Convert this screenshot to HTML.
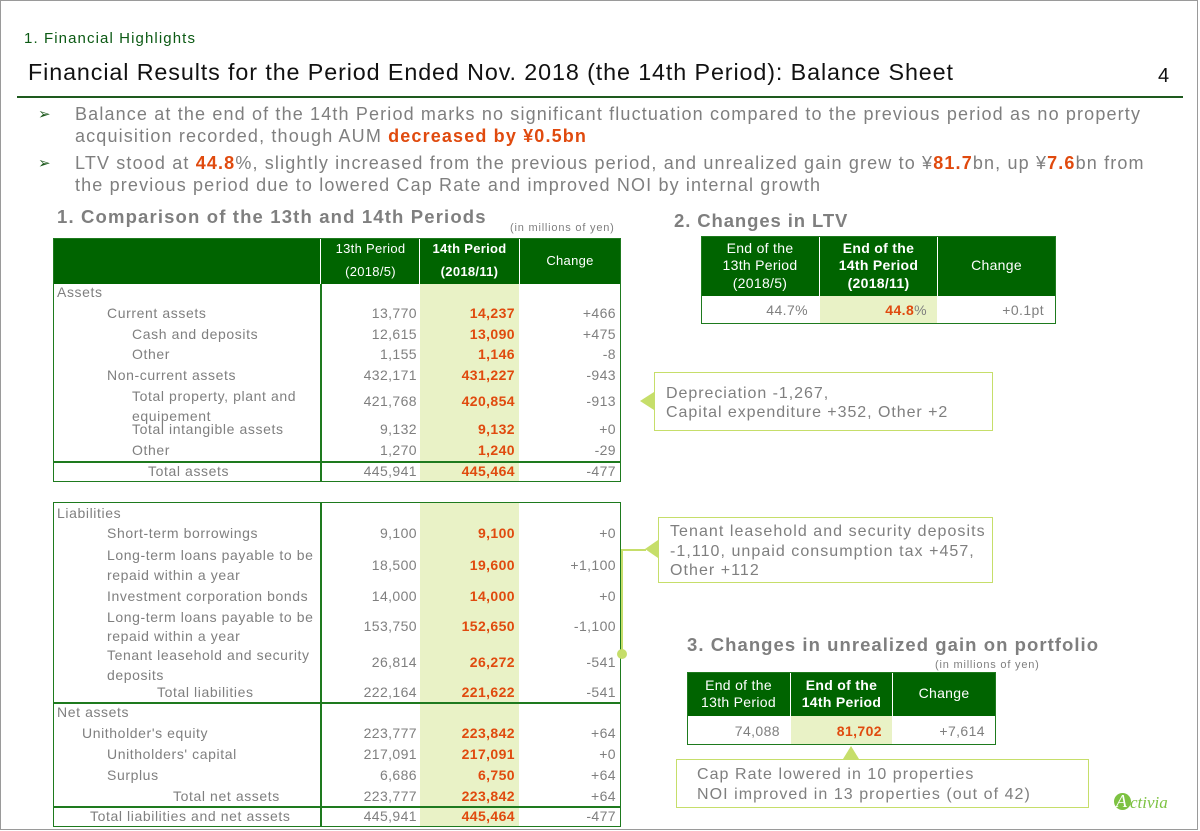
<!DOCTYPE html>
<html><head><meta charset="utf-8">
<style>
body{margin:0;width:1200px;height:831px;background:#fff;position:relative;overflow:hidden;font-family:"Liberation Sans","DejaVu Sans",sans-serif;color:#7f7f7f}
.a{position:absolute;white-space:nowrap;line-height:1}
.r{color:#e04a0e;font-weight:bold}
.box{position:absolute;box-sizing:border-box}
.n{position:absolute;white-space:nowrap;line-height:1;text-align:right;font-size:14px;letter-spacing:0.4px}
.l{position:absolute;white-space:nowrap;line-height:1;font-size:14px;letter-spacing:0.6px}
.hd{position:absolute;color:#fff;text-align:center;font-size:13px;line-height:1.25;display:flex;align-items:center;justify-content:center;box-sizing:border-box;letter-spacing:0.3px}
.bl{font-size:18px;letter-spacing:1.15px}
.h{font-size:18.5px;font-weight:bold;letter-spacing:1.15px}
.c{font-size:16px;letter-spacing:0.95px}
</style></head><body>
<div class="box" style="left:0;top:0;width:1198px;height:830px;border:1px solid #9a9a9a"></div>
<div class="a" style="left:24px;top:31px;font-size:15px;color:#0c5a14;letter-spacing:1.1px">1. Financial Highlights</div>
<div class="a" style="left:28px;top:61px;font-size:23.3px;color:#111;letter-spacing:0.9px">Financial Results for the Period Ended Nov. 2018 (the 14th Period): Balance Sheet</div>
<div class="a" style="left:1158px;top:66px;font-size:20px;color:#111">4</div>
<div class="box" style="left:17px;top:96px;width:1166px;height:2px;background:#1e5a1e"></div>

<div class="a" style="left:38px;top:107px;font-size:15px;color:#1e5a1e">&#10146;</div>
<div class="a bl" style="left:75px;top:105px">Balance at the end of the 14th Period marks no significant fluctuation compared to the previous period as no property</div>
<div class="a bl" style="left:75px;top:127px">acquisition recorded, though AUM <span class="r">decreased by ¥0.5bn</span></div>
<div class="a" style="left:38px;top:156px;font-size:15px;color:#1e5a1e">&#10146;</div>
<div class="a bl" style="left:75px;top:154px">LTV stood at <span class="r">44.8</span>%, slightly increased from the previous period, and unrealized gain grew to ¥<span class="r">81.7</span>bn, up ¥<span class="r">7.6</span>bn from</div>
<div class="a bl" style="left:75px;top:176px">the previous period due to lowered Cap Rate and improved NOI by internal growth</div>

<div class="a h" style="left:57px;top:208px">1. Comparison of the 13th and 14th Periods</div>
<div class="a" style="left:510px;top:223px;font-size:11px;letter-spacing:0.8px">(in millions of yen)</div>

<!-- table 1 -->
<div class="box" style="left:420px;top:284px;width:99px;height:197px;background:#e9f2c6"></div>
<div class="box" style="left:420px;top:503px;width:99px;height:323px;background:#e9f2c6"></div>
<div class="box" style="left:53px;top:238px;width:568px;height:46px;background:#006400"></div>
<div class="hd" style="left:321px;top:238px;width:99px;height:46px;line-height:1.75">13th Period<br>(2018/5)</div>
<div class="hd" style="left:420px;top:238px;width:99px;height:46px;line-height:1.75;font-weight:bold">14th Period<br>(2018/11)</div>
<div class="hd" style="left:520px;top:238px;width:100px;height:46px">Change</div>
<div class="box" style="left:320px;top:238px;width:1px;height:46px;background:#fff"></div>
<div class="box" style="left:419px;top:238px;width:1px;height:46px;background:#fff"></div>
<div class="box" style="left:519px;top:238px;width:1px;height:46px;background:#fff"></div>
<div class="box" style="left:53px;top:238px;width:568px;height:244px;border:1.5px solid #1e7a1e"></div>
<div class="box" style="left:320px;top:284px;width:1.5px;height:197px;background:#1e7a1e"></div>
<div class="box" style="left:53px;top:461px;width:568px;height:1.5px;background:#1e7a1e"></div>

<div class="l" style="left:57px;top:285px">Assets</div>
<div class="l" style="left:107px;top:306px">Current assets</div>
<div class="l" style="left:132px;top:327px">Cash and deposits</div>
<div class="l" style="left:132px;top:347px">Other</div>
<div class="l" style="left:107px;top:368px">Non-current assets</div>
<div class="l" style="left:132px;top:386px;line-height:20px;white-space:normal;width:186px">Total property, plant and equipement</div>
<div class="l" style="left:132px;top:422px">Total intangible assets</div>
<div class="l" style="left:132px;top:443px">Other</div>
<div class="l" style="left:148px;top:464px">Total assets</div>

<div class="n" style="left:300px;width:117px;top:306px">13,770</div><div class="n r" style="left:400px;width:115px;top:306px">14,237</div><div class="n" style="left:520px;width:96px;top:306px">+466</div>
<div class="n" style="left:300px;width:117px;top:327px">12,615</div><div class="n r" style="left:400px;width:115px;top:327px">13,090</div><div class="n" style="left:520px;width:96px;top:327px">+475</div>
<div class="n" style="left:300px;width:117px;top:347px">1,155</div><div class="n r" style="left:400px;width:115px;top:347px">1,146</div><div class="n" style="left:520px;width:96px;top:347px">-8</div>
<div class="n" style="left:300px;width:117px;top:368px">432,171</div><div class="n r" style="left:400px;width:115px;top:368px">431,227</div><div class="n" style="left:520px;width:96px;top:368px">-943</div>
<div class="n" style="left:300px;width:117px;top:394px">421,768</div><div class="n r" style="left:400px;width:115px;top:394px">420,854</div><div class="n" style="left:520px;width:96px;top:394px">-913</div>
<div class="n" style="left:300px;width:117px;top:422px">9,132</div><div class="n r" style="left:400px;width:115px;top:422px">9,132</div><div class="n" style="left:520px;width:96px;top:422px">+0</div>
<div class="n" style="left:300px;width:117px;top:443px">1,270</div><div class="n r" style="left:400px;width:115px;top:443px">1,240</div><div class="n" style="left:520px;width:96px;top:443px">-29</div>
<div class="n" style="left:300px;width:117px;top:464px">445,941</div><div class="n r" style="left:400px;width:115px;top:464px">445,464</div><div class="n" style="left:520px;width:96px;top:464px">-477</div>

<!-- table 2 -->
<div class="box" style="left:53px;top:502px;width:568px;height:325px;border:1.5px solid #1e7a1e"></div>
<div class="box" style="left:320px;top:502px;width:1.5px;height:324px;background:#1e7a1e"></div>
<div class="box" style="left:53px;top:702px;width:568px;height:1.5px;background:#1e7a1e"></div>
<div class="box" style="left:53px;top:806px;width:568px;height:1.5px;background:#1e7a1e"></div>

<div class="l" style="left:57px;top:506px">Liabilities</div>
<div class="l" style="left:107px;top:526px">Short-term borrowings</div>
<div class="l" style="left:107px;top:545px;line-height:20px;white-space:normal;width:212px">Long-term loans payable to be repaid within a year</div>
<div class="l" style="left:107px;top:589px">Investment corporation bonds</div>
<div class="l" style="left:107px;top:608px;line-height:19px;white-space:normal;width:212px">Long-term loans payable to be repaid within a year</div>
<div class="l" style="left:107px;top:645px;line-height:20px;white-space:normal;width:212px">Tenant leasehold and security deposits</div>
<div class="l" style="left:157px;top:685px">Total liabilities</div>
<div class="l" style="left:57px;top:705px">Net assets</div>
<div class="l" style="left:82px;top:726px">Unitholder's equity</div>
<div class="l" style="left:107px;top:747px">Unitholders' capital</div>
<div class="l" style="left:107px;top:768px">Surplus</div>
<div class="l" style="left:173px;top:789px">Total net assets</div>
<div class="l" style="left:90px;top:809px">Total liabilities and net assets</div>

<div class="n" style="left:300px;width:117px;top:526px">9,100</div><div class="n r" style="left:400px;width:115px;top:526px">9,100</div><div class="n" style="left:520px;width:96px;top:526px">+0</div>
<div class="n" style="left:300px;width:117px;top:558px">18,500</div><div class="n r" style="left:400px;width:115px;top:558px">19,600</div><div class="n" style="left:520px;width:96px;top:558px">+1,100</div>
<div class="n" style="left:300px;width:117px;top:589px">14,000</div><div class="n r" style="left:400px;width:115px;top:589px">14,000</div><div class="n" style="left:520px;width:96px;top:589px">+0</div>
<div class="n" style="left:300px;width:117px;top:619px">153,750</div><div class="n r" style="left:400px;width:115px;top:619px">152,650</div><div class="n" style="left:520px;width:96px;top:619px">-1,100</div>
<div class="n" style="left:300px;width:117px;top:655px">26,814</div><div class="n r" style="left:400px;width:115px;top:655px">26,272</div><div class="n" style="left:520px;width:96px;top:655px">-541</div>
<div class="n" style="left:300px;width:117px;top:685px">222,164</div><div class="n r" style="left:400px;width:115px;top:685px">221,622</div><div class="n" style="left:520px;width:96px;top:685px">-541</div>
<div class="n" style="left:300px;width:117px;top:726px">223,777</div><div class="n r" style="left:400px;width:115px;top:726px">223,842</div><div class="n" style="left:520px;width:96px;top:726px">+64</div>
<div class="n" style="left:300px;width:117px;top:747px">217,091</div><div class="n r" style="left:400px;width:115px;top:747px">217,091</div><div class="n" style="left:520px;width:96px;top:747px">+0</div>
<div class="n" style="left:300px;width:117px;top:768px">6,686</div><div class="n r" style="left:400px;width:115px;top:768px">6,750</div><div class="n" style="left:520px;width:96px;top:768px">+64</div>
<div class="n" style="left:300px;width:117px;top:789px">223,777</div><div class="n r" style="left:400px;width:115px;top:789px">223,842</div><div class="n" style="left:520px;width:96px;top:789px">+64</div>
<div class="n" style="left:300px;width:117px;top:809px">445,941</div><div class="n r" style="left:400px;width:115px;top:809px">445,464</div><div class="n" style="left:520px;width:96px;top:809px">-477</div>

<!-- LTV -->
<div class="a h" style="left:674px;top:212px;letter-spacing:0.9px">2. Changes in LTV</div>
<div class="box" style="left:701px;top:236px;width:354px;height:60px;background:#006400"></div>
<div class="hd" style="left:701px;top:236px;width:118px;height:60px;font-size:14px">End of the<br>13th Period<br>(2018/5)</div>
<div class="hd" style="left:820px;top:236px;width:117px;height:60px;font-size:14px;font-weight:bold">End of the<br>14th Period<br>(2018/11)</div>
<div class="hd" style="left:938px;top:236px;width:117px;height:60px;font-size:14px">Change</div>
<div class="box" style="left:819px;top:236px;width:1px;height:60px;background:#fff"></div>
<div class="box" style="left:937px;top:236px;width:1px;height:60px;background:#fff"></div>
<div class="box" style="left:820px;top:296px;width:117px;height:27px;background:#e9f2c6"></div>
<div class="box" style="left:701px;top:236px;width:355px;height:88px;border:1px solid #1e7a1e"></div>
<div class="n" style="left:701px;width:107px;top:303px">44.7%</div>
<div class="n" style="left:820px;width:107px;top:303px"><span class="r">44.8</span>%</div>
<div class="n" style="left:938px;width:106px;top:303px">+0.1pt</div>

<!-- callout 1 -->
<div class="box" style="left:654px;top:372px;width:339px;height:59px;border:1.5px solid #c6de6a"></div>
<div style="position:absolute;left:640px;top:392px;width:0;height:0;border-top:9px solid transparent;border-bottom:9px solid transparent;border-right:14px solid #c6de6a"></div>
<div class="a c" style="left:666px;top:384px;line-height:19px">Depreciation -1,267,<br>Capital expenditure +352, Other +2</div>

<!-- callout 2 -->
<div class="box" style="left:658px;top:517px;width:335px;height:66px;border:1.5px solid #c6de6a"></div>
<div style="position:absolute;left:645px;top:540px;width:0;height:0;border-top:9px solid transparent;border-bottom:9px solid transparent;border-right:13px solid #c6de6a"></div>
<div class="box" style="left:621px;top:549px;width:25px;height:1.5px;background:#c6de6a"></div>
<div class="box" style="left:621px;top:549px;width:1.5px;height:105px;background:#c6de6a"></div>
<div class="box" style="left:617px;top:649px;width:10px;height:10px;border-radius:50%;background:#c6de6a"></div>
<div class="a c" style="left:670px;top:522px;line-height:19.5px;letter-spacing:1.05px">Tenant leasehold and security deposits<br>-1,110, unpaid consumption tax +457,<br>Other +112</div>

<!-- unrealized -->
<div class="a h" style="left:687px;top:636px;letter-spacing:1.05px">3. Changes in unrealized gain on portfolio</div>
<div class="a" style="left:935px;top:660px;font-size:11px;letter-spacing:0.8px">(in millions of yen)</div>
<div class="box" style="left:687px;top:672px;width:308px;height:44px;background:#006400"></div>
<div class="hd" style="left:687px;top:672px;width:103px;height:44px;font-size:14px">End of the<br>13th Period</div>
<div class="hd" style="left:791px;top:672px;width:101px;height:44px;font-size:14px;font-weight:bold">End of the<br>14th Period</div>
<div class="hd" style="left:893px;top:672px;width:102px;height:44px;font-size:14px">Change</div>
<div class="box" style="left:790px;top:672px;width:1px;height:44px;background:#fff"></div>
<div class="box" style="left:892px;top:672px;width:1px;height:44px;background:#fff"></div>
<div class="box" style="left:791px;top:716px;width:101px;height:28px;background:#e9f2c6"></div>
<div class="box" style="left:687px;top:672px;width:309px;height:73px;border:1px solid #1e7a1e"></div>
<div class="n" style="left:687px;width:93px;top:724px">74,088</div>
<div class="n r" style="left:791px;width:91px;top:724px">81,702</div>
<div class="n" style="left:893px;width:92px;top:724px">+7,614</div>

<div class="box" style="left:676px;top:759px;width:413px;height:49px;border:1.5px solid #c6de6a"></div>
<div style="position:absolute;left:843px;top:746px;width:0;height:0;border-left:8px solid transparent;border-right:8px solid transparent;border-bottom:13px solid #c6de6a"></div>
<div class="a c" style="left:697px;top:765px;line-height:20px;letter-spacing:1.05px">Cap Rate lowered in 10 properties<br>NOI improved in 13 properties (out of 42)</div>

<div class="box" style="left:1114px;top:793px;width:17px;height:17px;border-radius:50%;background:#7dc242"></div>
<div class="a" style="left:1116px;top:792px;font-size:18px;color:#fff;font-family:'Liberation Serif',serif;font-style:italic">A</div>
<div class="a" style="left:1130px;top:794px;font-size:17px;color:#7dc242;font-family:'Liberation Serif',serif;font-style:italic">ctivia</div>
</body></html>
